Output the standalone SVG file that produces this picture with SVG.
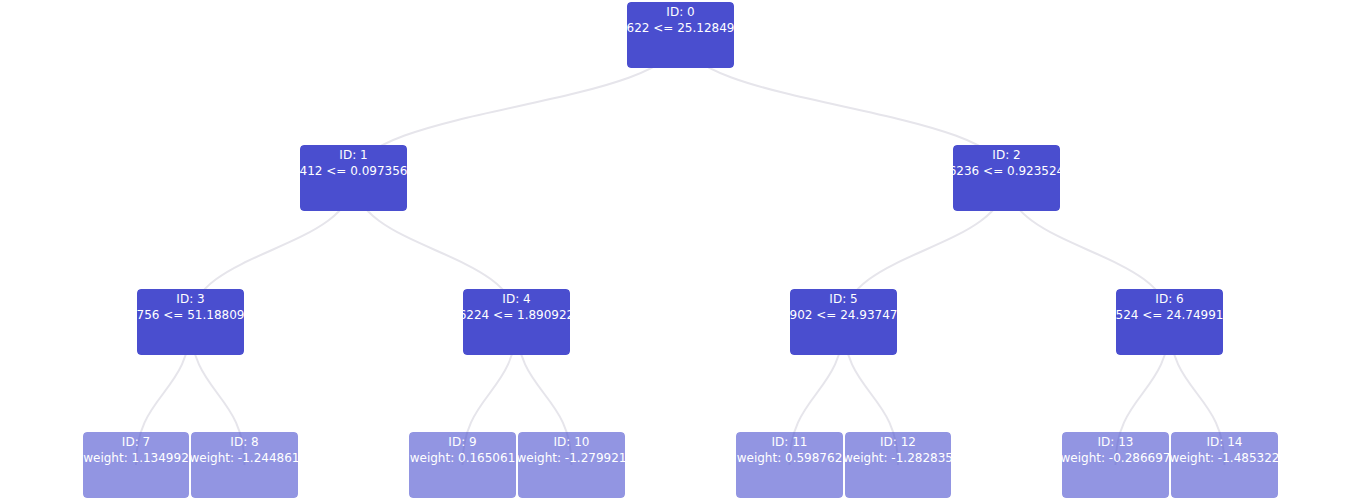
<svg xmlns="http://www.w3.org/2000/svg" width="1360" height="500" viewBox="0 0 1360 500">
  <style>
    .edge { fill: none; stroke: #e6e5eb; stroke-width: 2; }
    .split rect { fill: #4a4ecf; }
    .leaf rect { fill: #4a4ecf; fill-opacity: 0.6; }
    text { font-family: "DejaVu Sans", "Liberation Sans", sans-serif; font-size: 12px; fill: #ffffff; text-anchor: middle; }
  </style>
  <defs>
    <clipPath id="c0"><rect x="627" y="2" width="107" height="66" rx="4"/></clipPath>
    <clipPath id="c1"><rect x="300" y="145" width="107" height="66" rx="4"/></clipPath>
    <clipPath id="c2"><rect x="953" y="145" width="107" height="66" rx="4"/></clipPath>
    <clipPath id="c3"><rect x="137" y="289" width="107" height="66" rx="4"/></clipPath>
    <clipPath id="c4"><rect x="463" y="289" width="107" height="66" rx="4"/></clipPath>
    <clipPath id="c5"><rect x="790" y="289" width="107" height="66" rx="4"/></clipPath>
    <clipPath id="c6"><rect x="1116" y="289" width="107" height="66" rx="4"/></clipPath>
    <clipPath id="c7"><rect x="83" y="432" width="106" height="66" rx="4"/></clipPath>
    <clipPath id="c8"><rect x="191" y="432" width="107" height="66" rx="4"/></clipPath>
    <clipPath id="c9"><rect x="409" y="432" width="107" height="66" rx="4"/></clipPath>
    <clipPath id="c10"><rect x="518" y="432" width="107" height="66" rx="4"/></clipPath>
    <clipPath id="c11"><rect x="736" y="432" width="107" height="66" rx="4"/></clipPath>
    <clipPath id="c12"><rect x="845" y="432" width="106" height="66" rx="4"/></clipPath>
    <clipPath id="c13"><rect x="1062" y="432" width="107" height="66" rx="4"/></clipPath>
    <clipPath id="c14"><rect x="1171" y="432" width="107" height="66" rx="4"/></clipPath>
  </defs>

  <!-- connectors: centre to centre, drawn beneath the boxes -->
  <g id="edges">
    <path class="edge" d="M680.5,35 C680.5,106.5 353.5,106.5 353.5,178"/>
    <path class="edge" d="M680.5,35 C680.5,106.5 1006.5,106.5 1006.5,178"/>
    <path class="edge" d="M353.5,178 C353.5,250 190.5,250 190.5,322"/>
    <path class="edge" d="M353.5,178 C353.5,250 516.5,250 516.5,322"/>
    <path class="edge" d="M1006.5,178 C1006.5,250 843.5,250 843.5,322"/>
    <path class="edge" d="M1006.5,178 C1006.5,250 1169.5,250 1169.5,322"/>
    <path class="edge" d="M190.5,322 C190.5,393.5 136,393.5 136,465"/>
    <path class="edge" d="M190.5,322 C190.5,393.5 244.5,393.5 244.5,465"/>
    <path class="edge" d="M516.5,322 C516.5,393.5 462.5,393.5 462.5,465"/>
    <path class="edge" d="M516.5,322 C516.5,393.5 571.5,393.5 571.5,465"/>
    <path class="edge" d="M843.5,322 C843.5,393.5 789.5,393.5 789.5,465"/>
    <path class="edge" d="M843.5,322 C843.5,393.5 898,393.5 898,465"/>
    <path class="edge" d="M1169.5,322 C1169.5,393.5 1115.5,393.5 1115.5,465"/>
    <path class="edge" d="M1169.5,322 C1169.5,393.5 1224.5,393.5 1224.5,465"/>
  </g>

  <g id="node-0" class="split" clip-path="url(#c0)">
    <rect x="627" y="2" width="107" height="66" rx="4"/>
    <text x="680.5" y="16">ID: 0</text>
    <text x="680.5" y="32">622 &lt;= 25.12849</text>
  </g>
  <g id="node-1" class="split" clip-path="url(#c1)">
    <rect x="300" y="145" width="107" height="66" rx="4"/>
    <text x="353.5" y="159">ID: 1</text>
    <text x="353.5" y="175">412 &lt;= 0.097356</text>
  </g>
  <g id="node-2" class="split" clip-path="url(#c2)">
    <rect x="953" y="145" width="107" height="66" rx="4"/>
    <text x="1006.5" y="159">ID: 2</text>
    <text x="1006.5" y="175">6236 &lt;= 0.923524</text>
  </g>
  <g id="node-3" class="split" clip-path="url(#c3)">
    <rect x="137" y="289" width="107" height="66" rx="4"/>
    <text x="190.5" y="303">ID: 3</text>
    <text x="190.5" y="319">756 &lt;= 51.18809</text>
  </g>
  <g id="node-4" class="split" clip-path="url(#c4)">
    <rect x="463" y="289" width="107" height="66" rx="4"/>
    <text x="516.5" y="303">ID: 4</text>
    <text x="516.5" y="319">6224 &lt;= 1.890922</text>
  </g>
  <g id="node-5" class="split" clip-path="url(#c5)">
    <rect x="790" y="289" width="107" height="66" rx="4"/>
    <text x="843.5" y="303">ID: 5</text>
    <text x="843.5" y="319">902 &lt;= 24.93747</text>
  </g>
  <g id="node-6" class="split" clip-path="url(#c6)">
    <rect x="1116" y="289" width="107" height="66" rx="4"/>
    <text x="1169.5" y="303">ID: 6</text>
    <text x="1169.5" y="319">524 &lt;= 24.74991</text>
  </g>

  <g id="node-7" class="leaf" clip-path="url(#c7)">
    <rect x="83" y="432" width="106" height="66" rx="4"/>
    <text x="136" y="446">ID: 7</text>
    <text x="136" y="462">weight: 1.134992</text>
  </g>
  <g id="node-8" class="leaf" clip-path="url(#c8)">
    <rect x="191" y="432" width="107" height="66" rx="4"/>
    <text x="244.5" y="446">ID: 8</text>
    <text x="244.5" y="462">weight: -1.244861</text>
  </g>
  <g id="node-9" class="leaf" clip-path="url(#c9)">
    <rect x="409" y="432" width="107" height="66" rx="4"/>
    <text x="462.5" y="446">ID: 9</text>
    <text x="462.5" y="462">weight: 0.165061</text>
  </g>
  <g id="node-10" class="leaf" clip-path="url(#c10)">
    <rect x="518" y="432" width="107" height="66" rx="4"/>
    <text x="571.5" y="446">ID: 10</text>
    <text x="571.5" y="462">weight: -1.279921</text>
  </g>
  <g id="node-11" class="leaf" clip-path="url(#c11)">
    <rect x="736" y="432" width="107" height="66" rx="4"/>
    <text x="789.5" y="446">ID: 11</text>
    <text x="789.5" y="462">weight: 0.598762</text>
  </g>
  <g id="node-12" class="leaf" clip-path="url(#c12)">
    <rect x="845" y="432" width="106" height="66" rx="4"/>
    <text x="898" y="446">ID: 12</text>
    <text x="898" y="462">weight: -1.282835</text>
  </g>
  <g id="node-13" class="leaf" clip-path="url(#c13)">
    <rect x="1062" y="432" width="107" height="66" rx="4"/>
    <text x="1115.5" y="446">ID: 13</text>
    <text x="1115.5" y="462">weight: -0.286697</text>
  </g>
  <g id="node-14" class="leaf" clip-path="url(#c14)">
    <rect x="1171" y="432" width="107" height="66" rx="4"/>
    <text x="1224.5" y="446">ID: 14</text>
    <text x="1224.5" y="462">weight: -1.485322</text>
  </g>
</svg>
